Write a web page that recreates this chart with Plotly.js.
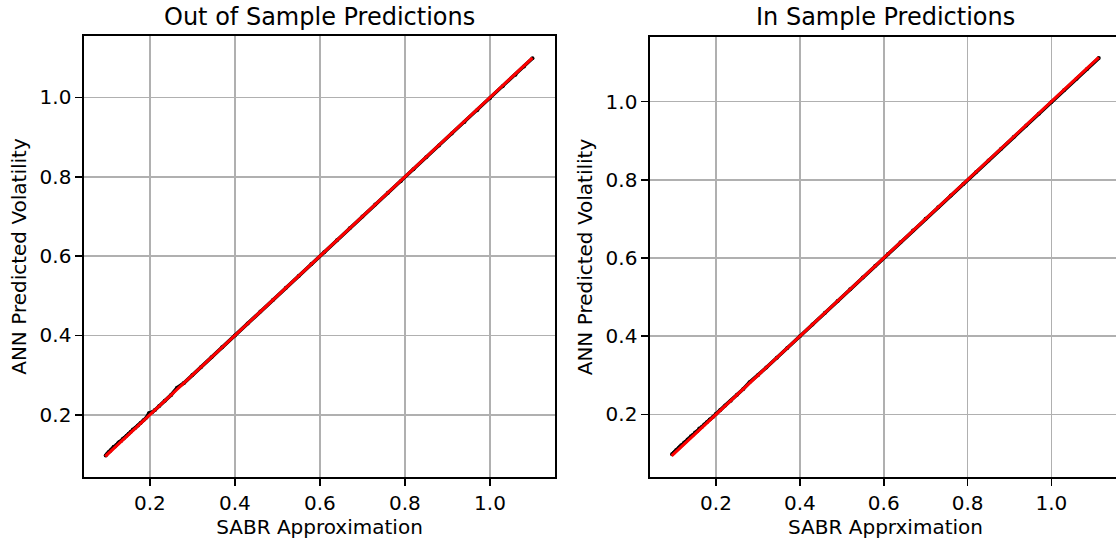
<!DOCTYPE html>
<html>
<head>
<meta charset="utf-8">
<script src="https://cdn.plot.ly/plotly-3.0.1.min.js"></script>
<style>
html,body{margin:0;padding:0;background:#fff;overflow:hidden;}
#chart{width:1130px;height:543px;}
</style>
</head>
<body>
<div id="chart"></div>
<script>
// ---- Data ----
var titles = ["Out of Sample Predictions", "In Sample Predictions"];
var xLabels = ["SABR Approximation", "SABR Apprximation"];
var yLabel = "ANN Predicted Volatility";
var tickVals = [0.2, 0.4, 0.6, 0.8, 1.0];
var tickText = ["0.2", "0.4", "0.6", "0.8", "1.0"];

// Out of sample: SABR approximation vs ANN prediction
var outSabr = [0.096,0.100,0.103,0.106,0.109,0.112,0.115,0.118,0.121,0.125,0.128,0.132,0.136,0.140,0.145,0.150,0.155,0.160,0.166,0.172,0.178,0.185,0.192,0.198,0.205,0.212,0.222,0.235,0.250,0.264,0.280,0.300,0.320,0.345,0.370,0.400,0.430,0.460,0.490,0.520,0.550,0.580,0.610,0.640,0.670,0.700,0.730,0.760,0.790,0.820,0.850,0.880,0.910,0.940,0.970,1.000,1.030,1.060,1.080,1.100];
var outAnn  = [0.097,0.102,0.106,0.108,0.112,0.115,0.119,0.120,0.124,0.128,0.131,0.134,0.139,0.142,0.147,0.152,0.157,0.163,0.167,0.173,0.179,0.186,0.193,0.204,0.206,0.212,0.222,0.235,0.250,0.268,0.280,0.300,0.320,0.345,0.370,0.400,0.430,0.460,0.490,0.520,0.550,0.580,0.610,0.640,0.670,0.700,0.730,0.760,0.789,0.819,0.849,0.879,0.909,0.938,0.968,0.998,1.028,1.057,1.078,1.099];
var outLineX = [0.095, 1.100];
var outLineY = [0.095, 1.100];

// In sample: SABR approximation vs ANN prediction
var inSabr = [0.095,0.099,0.102,0.105,0.108,0.111,0.114,0.117,0.120,0.124,0.128,0.132,0.136,0.140,0.145,0.150,0.155,0.160,0.166,0.172,0.178,0.185,0.192,0.200,0.210,0.222,0.235,0.250,0.265,0.280,0.300,0.320,0.345,0.370,0.400,0.430,0.460,0.490,0.520,0.550,0.580,0.610,0.640,0.670,0.700,0.730,0.760,0.790,0.820,0.850,0.880,0.910,0.940,0.970,1.000,1.030,1.060,1.085,1.113];
var inAnn  = [0.098,0.102,0.105,0.109,0.111,0.115,0.118,0.121,0.123,0.128,0.131,0.136,0.139,0.144,0.148,0.154,0.157,0.164,0.168,0.174,0.180,0.187,0.193,0.202,0.211,0.223,0.235,0.250,0.265,0.282,0.300,0.320,0.345,0.370,0.400,0.430,0.460,0.490,0.520,0.550,0.580,0.610,0.640,0.670,0.700,0.730,0.760,0.789,0.819,0.849,0.879,0.909,0.939,0.969,0.999,1.029,1.058,1.083,1.111];
var inLineX = [0.094, 1.113];
var inLineY = [0.094, 1.113];

// ---- Figure ----
var W = 1130, H = 543;
var FONT = "DejaVu Sans, Liberation Sans, sans-serif";

function scatterTrace(x, y, xa, ya) {
  return {x: x, y: y, xaxis: xa, yaxis: ya, type: "scatter", mode: "lines+markers",
    line: {color: "#000", width: 3.6}, marker: {color: "#000", size: 4}, hoverinfo: "skip"};
}
function lineTrace(x, y, xa, ya) {
  return {x: x, y: y, xaxis: xa, yaxis: ya, type: "scatter", mode: "lines",
    line: {color: "#ff0000", width: 3}, hoverinfo: "skip"};
}

var data = [
  scatterTrace(outSabr, outAnn, "x", "y"),
  lineTrace(outLineX, outLineY, "x", "y"),
  scatterTrace(inSabr, inAnn, "x2", "y2"),
  lineTrace(inLineX, inLineY, "x2", "y2")
];

function axis(extra) {
  var base = {
    showline: true, mirror: true, linecolor: "#000", linewidth: 1.6,
    ticks: "outside", ticklen: 7, tickwidth: 1.6, tickcolor: "#000",
    showgrid: true, gridcolor: "#b0b0b0", gridwidth: 1.6, zeroline: false,
    tickmode: "array", tickvals: tickVals, ticktext: tickText,
    tickfont: {family: FONT, size: 20, color: "#000"},
    automargin: false
  };
  for (var k in extra) base[k] = extra[k];
  return base;
}

var layout = {
  width: W, height: H,
  margin: {l: 0, r: 0, t: 0, b: 0},
  paper_bgcolor: "#fff", plot_bgcolor: "#fff",
  showlegend: false,
  font: {family: FONT, size: 20, color: "#000"},
  xaxis: axis({domain: [84 / W, 555 / W], range: [0.045, 1.153], anchor: "y",
    title: {text: xLabels[0], font: {family: FONT, size: 20, color: "#000"}, standoff: 6}}),
  yaxis: axis({domain: [66 / H, 507 / H], range: [0.043, 1.155], anchor: "x",
    title: {text: yLabel, font: {family: FONT, size: 20, color: "#000"}, standoff: 7}}),
  xaxis2: axis({domain: [650 / W, 1121 / W], range: [0.0425, 1.166], anchor: "y2",
    title: {text: xLabels[1], font: {family: FONT, size: 20, color: "#000"}, standoff: 6}}),
  yaxis2: axis({domain: [66 / H, 506 / H], range: [0.04, 1.165], anchor: "x2",
    title: {text: yLabel, font: {family: FONT, size: 20, color: "#000"}, standoff: 7}}),
  annotations: [
    {text: titles[0], xref: "paper", yref: "paper", x: (84 + 555) / 2 / W, y: (H - 33) / H,
     xanchor: "center", yanchor: "bottom", showarrow: false, font: {family: FONT, size: 24, color: "#000"}},
    {text: titles[1], xref: "paper", yref: "paper", x: (650 + 1121) / 2 / W, y: (H - 33) / H,
     xanchor: "center", yanchor: "bottom", showarrow: false, font: {family: FONT, size: 24, color: "#000"}}
  ]
};

Plotly.newPlot("chart", data, layout, {staticPlot: true, displayModeBar: false});
</script>
</body>
</html>
